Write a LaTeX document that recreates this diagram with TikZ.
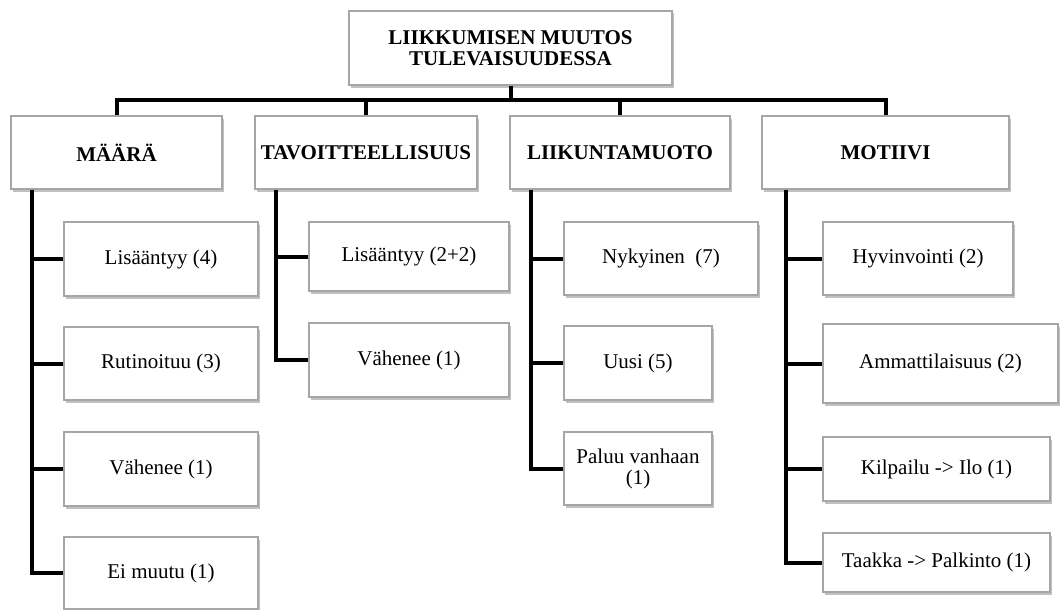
\documentclass[tikz,border=0pt]{standalone}
\usepackage{fontspec}
\setmainfont{Liberation Serif}
\usetikzlibrary{shadows}
\tikzset{
  box/.style={draw=black!35, line width=1.1pt, fill=white, rectangle, inner sep=2pt,
    font=\fontsize{21}{21}\selectfont, align=center,
    drop shadow={shadow xshift=1.5pt, shadow yshift=-2.5pt, opacity=0.35, fill=black!70}},
  head/.style={box, font=\fontsize{21}{21}\selectfont\bfseries},
  conn/.style={line width=4pt, draw=black, line join=miter}
}
\begin{document}
\begin{tikzpicture}[x=1pt, y=-1pt]
\useasboundingbox (0,0) rectangle (1060,610);
% top
\node[head, minimum width=323pt, minimum height=74pt] (top) at (510.5,48) {LIIKKUMISEN MUUTOS\\TULEVAISUUDESSA};
% level 1
\node[head, minimum width=211pt, minimum height=73pt] (m1) at (116.5,152.5) {MÄÄRÄ};
\node[head, minimum width=222pt, minimum height=73pt] (m2) at (366,152.5) {TAVOITTEELLISUUS};
\node[head, minimum width=220pt, minimum height=73pt] (m3) at (620,152.5) {LIIKUNTAMUOTO};
\node[head, minimum width=247pt, minimum height=73pt] (m4) at (885.5,152.5) {MOTIIVI};
% MÄÄRÄ children
\node[box, minimum width=194pt, minimum height=74pt] (a1) at (161,259) {Lisääntyy (4)};
\node[box, minimum width=194pt, minimum height=73pt] (a2) at (161,363.5) {Rutinoituu (3)};
\node[box, minimum width=194pt, minimum height=74pt] (a3) at (161,469) {Vähenee (1)};
\node[box, minimum width=194pt, minimum height=72pt] (a4) at (161,573) {Ei muutu (1)};
% TAVOITTEELLISUUS children
\node[box, minimum width=200pt, minimum height=69pt] (b1) at (409,256.5) {Lisääntyy (2+2)};
\node[box, minimum width=200pt, minimum height=74pt] (b2) at (409,360) {Vähenee (1)};
% LIIKUNTAMUOTO children
\node[box, minimum width=194pt, minimum height=73pt] (c1) at (661,258.5) {Nykyinen~ (7)};
\node[box, minimum width=148pt, minimum height=74pt] (c2) at (638,363) {Uusi (5)};
\node[box, minimum width=148pt, minimum height=73pt] (c3) at (638,468.5) {Paluu vanhaan\\(1)};
% MOTIIVI children
\node[box, minimum width=190pt, minimum height=73pt] (d1) at (918,258.5) {Hyvinvointi (2)};
\node[box, minimum width=235pt, minimum height=79pt] (d2) at (940.5,363.5) {Ammattilaisuus (2)};
\node[box, minimum width=227pt, minimum height=64pt] (d3) at (936.5,469) {Kilpailu -> Ilo (1)};
\node[box, minimum width=227pt, minimum height=59pt] (d4) at (936.5,562.5) {Taakka -> Palkinto (1)};
% top connectors
\coordinate (bar) at (510.5,100);
\draw[conn] (top.south) -- (bar);
\draw[conn] (m1.north) |- (bar);
\draw[conn] (m2.north) |- (bar);
\draw[conn] (m3.north) |- (bar);
\draw[conn] (m4.north) |- (bar);
% trunks
\coordinate (t1) at ([xshift=22pt]m1.south west);
\coordinate (t2) at ([xshift=22pt]m2.south west);
\coordinate (t3) at ([xshift=22pt]m3.south west);
\coordinate (t4) at ([xshift=25pt]m4.south west);
\draw[conn] (t1) |- (a4.west);
\foreach \n in {a1,a2,a3} \draw[conn] (t1 |- \n.west) -- (\n.west);
\draw[conn] (t2) |- (b2.west);
\draw[conn] (t2 |- b1.west) -- (b1.west);
\draw[conn] (t3) |- (c3.west);
\foreach \n in {c1,c2} \draw[conn] (t3 |- \n.west) -- (\n.west);
\draw[conn] (t4) |- (d4.west);
\foreach \n in {d1,d2,d3} \draw[conn] (t4 |- \n.west) -- (\n.west);
\end{tikzpicture}
\end{document}
